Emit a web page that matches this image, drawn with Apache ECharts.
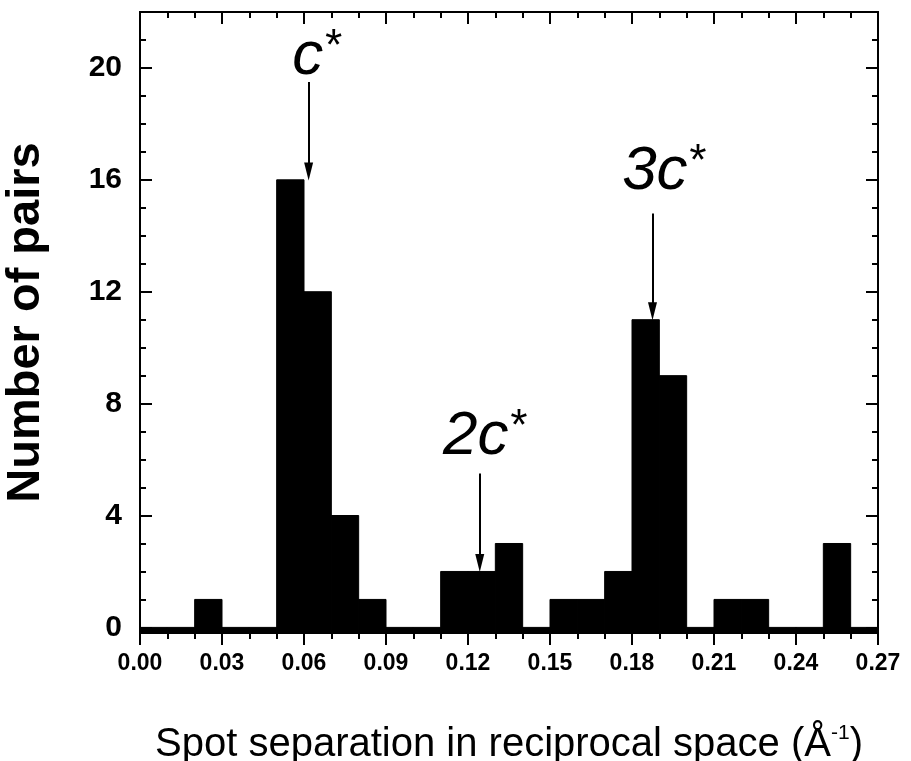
<!DOCTYPE html>
<html>
<head>
<meta charset="utf-8">
<script src="https://cdn.jsdelivr.net/npm/echarts@6/dist/echarts.min.js"></script>
<style>
  html, body { margin: 0; padding: 0; background: #fff; }
  #chart { width: 911px; height: 761px; }
</style>
</head>
<body>
<div id="chart"></div>
<script>
// histogram bins (left edges), width 0.01
const binStart = [0.00, 0.01, 0.02, 0.03, 0.04, 0.05, 0.06, 0.07, 0.08, 0.09,
    0.10, 0.11, 0.12, 0.13, 0.14, 0.15, 0.16, 0.17, 0.18, 0.19,
    0.20, 0.21, 0.22, 0.23, 0.24, 0.25, 0.26];
const counts = [0, 0, 1, 0, 0, 16, 12, 4, 1, 0,
    0, 2, 2, 3, 0, 1, 1, 2, 11, 9,
    0, 1, 1, 0, 0, 3, 0];
const binWidth = 0.01;

const yMajor = [0, 4, 8, 12, 16, 20];
const yMinor = [1, 2, 3, 5, 6, 7, 9, 10, 11, 13, 14, 15, 17, 18, 19, 21];

// peak annotations: text position, arrow x / start / end
const peakNames = ['c', '2c', '3c'];
const peakText = [[0.0645, 20.4], [0.126, 6.8], [0.1915, 16.3]];
const peakArrow = [[0.0617, 19.5, 16.3], [0.1243, 5.5, 2.3], [0.1875, 14.8, 11.3]];

const yMin = -0.2;
const yMax = 22;
const font = 'Liberation Sans, Arial, sans-serif';

const chart = echarts.init(document.getElementById('chart'));

const frameLine = { show: true, onZero: false, lineStyle: { color: '#000', width: 2 } };

function yAxisDef(pos, ticks, len, labels) {
    return {
        type: 'value',
        position: pos,
        min: yMin,
        max: yMax,
        axisLine: frameLine,
        splitLine: { show: false },
        axisTick: {
            show: true, inside: true, length: len, customValues: ticks,
            lineStyle: { color: '#000', width: 2 }
        },
        axisLabel: labels ? {
            show: true, customValues: ticks, margin: 18,
            color: '#000', fontSize: 30, fontWeight: 'bold', fontFamily: font
        } : { show: false }
    };
}

const leftMain = yAxisDef('left', yMajor, 12, true);
leftMain.name = 'Number of pairs';
leftMain.nameLocation = 'middle';
leftMain.nameGap = 90;
leftMain.nameTextStyle = { color: '#000', fontSize: 47, fontWeight: 'bold', fontFamily: font };

const option = {
    backgroundColor: '#fff',
    animation: false,
    grid: { left: 140, right: 33, top: 12, bottom: 128, containLabel: false, outerBoundsMode: 'none' },
    xAxis: [
        {
            type: 'value',
            position: 'bottom',
            min: 0,
            max: 0.27,
            interval: 0.03,
            axisLine: frameLine,
            splitLine: { show: false },
            axisTick: { show: true, inside: false, length: 12, lineStyle: { color: '#000', width: 2 } },
            minorTick: { show: true, splitNumber: 3, length: 6, lineStyle: { color: '#000', width: 2 } },
            axisLabel: {
                margin: 19, color: '#000', fontSize: 23, fontWeight: 'bold', fontFamily: font,
                formatter: (v) => v.toFixed(2)
            },
            name: '{t|Spot separation in reciprocal space (Å}{s|-1}{t|)}',
            nameLocation: 'middle',
            nameGap: 90,
            nameTextStyle: {
                rich: {
                    t: { fontSize: 40, color: '#000', fontFamily: font, lineHeight: 42, verticalAlign: 'bottom' },
                    s: { fontSize: 21, color: '#000', fontFamily: font, lineHeight: 42, verticalAlign: 'top' }
                }
            }
        },
        {
            type: 'value',
            position: 'top',
            min: 0,
            max: 0.27,
            interval: 0.03,
            axisLine: frameLine,
            splitLine: { show: false },
            axisTick: { show: true, inside: true, length: 12, lineStyle: { color: '#000', width: 2 } },
            minorTick: { show: true, splitNumber: 3, length: 6, lineStyle: { color: '#000', width: 2 } },
            axisLabel: { show: false }
        }
    ],
    yAxis: [
        leftMain,
        yAxisDef('left', yMinor, 6, false),
        yAxisDef('right', yMajor, 12, false),
        yAxisDef('right', yMinor, 6, false)
    ],
    series: [
        {
            type: 'custom',
            xAxisIndex: 0,
            yAxisIndex: 0,
            encode: { x: 0, y: 1 },
            data: binStart.map((s, i) => [s, counts[i]]),
            renderItem: function (params, api) {
                const x0 = api.value(0);
                const v = api.value(1);
                const p0 = api.coord([x0, yMin]);
                const p1 = api.coord([x0 + binWidth, v]);
                return {
                    type: 'rect',
                    shape: { x: p0[0], y: p1[1], width: p1[0] - p0[0], height: p0[1] - p1[1] },
                    style: { fill: '#000', stroke: '#000', lineWidth: 1 }
                };
            },
            markLine: {
                silent: true,
                symbol: ['none', 'triangle'],
                symbolSize: [9, 18],
                label: { show: false },
                lineStyle: { color: '#000', width: 2, type: 'solid', opacity: 1 },
                data: peakArrow.map((a) => [{ coord: [a[0], a[1]] }, { coord: [a[0], a[2]] }])
            }
        },
        {
            type: 'scatter',
            xAxisIndex: 0,
            yAxisIndex: 0,
            symbolSize: 0,
            silent: true,
            itemStyle: { opacity: 1 },
            data: peakText.map((p, i) => ({ value: p, name: peakNames[i] })),
            label: {
                show: true,
                position: 'inside',
                color: '#000',
                opacity: 1,
                textBorderWidth: 0,
                formatter: (p) => '{m|' + p.name + '}{s|*}',
                rich: {
                    m: { fontSize: 62, fontStyle: 'italic', color: '#000', fontFamily: font, lineHeight: 62, verticalAlign: 'bottom' },
                    s: { fontSize: 44, fontStyle: 'italic', color: '#000', fontFamily: font, lineHeight: 62, verticalAlign: 'top' }
                }
            }
        }
    ]
};

chart.setOption(option);
</script>
</body>
</html>
